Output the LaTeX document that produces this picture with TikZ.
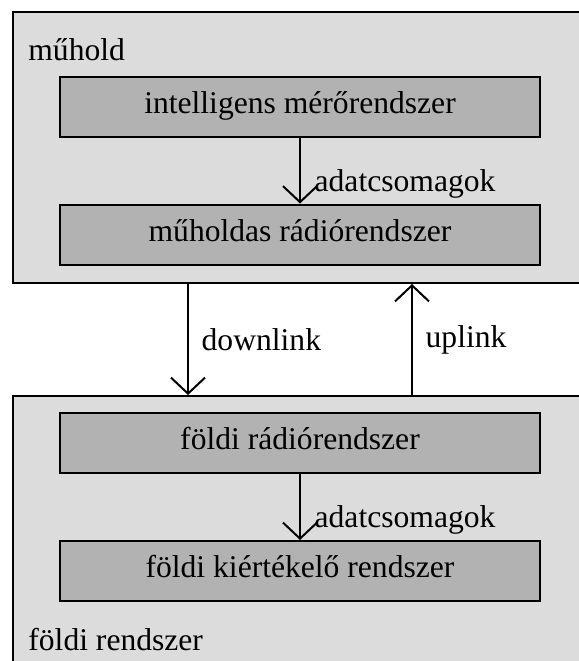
\documentclass[tikz,border=0pt]{standalone}
\usepackage{fontspec}
\setmainfont{Liberation Serif}
\usetikzlibrary{positioning,arrows.meta}
\definecolor{outergray}{RGB}{220,220,220}
\definecolor{innergray}{RGB}{178,178,178}

\begin{document}
\begin{tikzpicture}[x=0.5pt,y=-0.5pt,
	font=\fontsize{15.8}{19}\selectfont,
	outer/.style={draw, fill=outergray, line width=1pt, anchor=north west, minimum width=310pt, inner sep=0pt},
	box/.style={draw, fill=innergray, line width=1pt, minimum width=240pt, minimum height=30pt, text height=0.85em, text depth=0.2em},
	link/.style={-{Straight Barb[length=8pt,width=17pt]}, line width=1pt},
	node distance=33pt
	]
	
	\useasboundingbox (0,0) rectangle (579,661);
	\clip (0,0) rectangle (579,661);
	
	\node[outer, minimum height=135.5pt] (sat) at (12,11) {};
	\node[outer, minimum height=150pt] (gnd) at (12,395) {};
	
	\node[anchor=base west, inner sep=0pt] (satlabel) at (28,60) {műhold};
	\node[anchor=base west, inner sep=0pt] (gndlabel) at (28,650) {földi rendszer};
	
	\node[box] (meas) at (300,106.5) {intelligens mérőrendszer};
	\node[box] (satradio) [below=of meas] {műholdas rádiórendszer};
	
	\node[box] (gndradio) at (300,443) {földi rádiórendszer};
	\node[box] (eval) [below=of gndradio] {földi kiértékelő rendszer};
	
	\coordinate (dl) at (188,0);
	\coordinate (ul) at (412,0);
	
	\draw [link] (meas) -- node[pos=1, anchor=south west, xshift=3.5pt, yshift=-1pt] {adatcsomagok} (satradio);
	\draw [link] (gndradio) -- node[pos=1, anchor=south west, xshift=3.5pt, yshift=-1pt] {adatcsomagok} (eval);
	
	\draw [link] (sat.south -| dl) -- node[right=3pt] {downlink} (gnd.north -| dl);
	\draw [link] (gnd.north -| ul) -- node[right=3pt] {uplink} (sat.south -| ul);
	
\end{tikzpicture}
\end{document}
